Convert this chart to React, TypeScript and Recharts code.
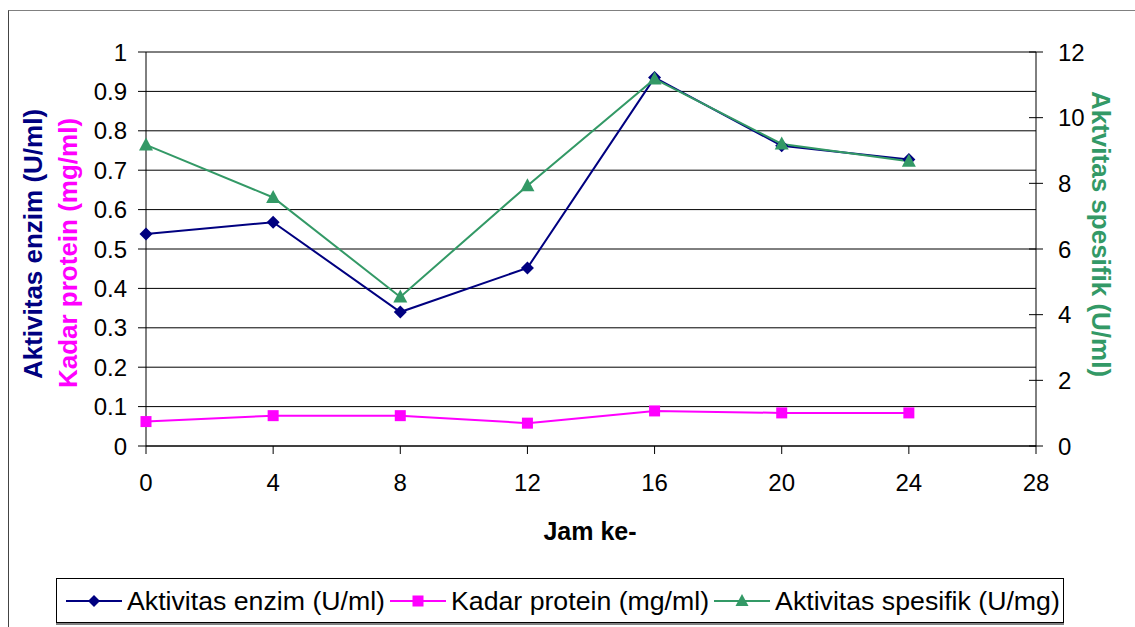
import React from "react";
import { LineChart, Line, XAxis, YAxis, CartesianGrid } from "recharts";

const hours = [0, 4, 8, 12, 16, 20, 24];
const aktivitasEnzim = [0.538, 0.568, 0.34, 0.452, 0.935, 0.762, 0.727];
const kadarProtein = [0.062, 0.077, 0.077, 0.058, 0.089, 0.084, 0.084];
const aktivitasSpesifik = [9.17, 7.57, 4.54, 7.93, 11.18, 9.2, 8.67];

const xTicks = [0, 4, 8, 12, 16, 20, 24, 28];
const leftTicks = [0, 0.1, 0.2, 0.3, 0.4, 0.5, 0.6, 0.7, 0.8, 0.9, 1];
const rightTicks = [0, 2, 4, 6, 8, 10, 12];

const seriesNames = [
  "Aktivitas enzim (U/ml)",
  "Kadar protein (mg/ml)",
  "Aktivitas spesifik (U/mg)",
];

const NAVY = "#000080";
const MAGENTA = "#FF00FF";
const GREEN = "#339966";
const FONT = "'Liberation Sans', Arial, sans-serif";

const data = hours.map((h, i) => ({
  jam: h,
  enzim: aktivitasEnzim[i],
  protein: kadarProtein[i],
  spesifik: aktivitasSpesifik[i],
}));

const Diamond = (props: any) => {
  const { cx, cy, fill, index } = props;
  if (cx == null || cy == null) return <g key={index} />;
  const r = 6.5;
  return (
    <path
      key={index}
      d={`M${cx},${cy - r} L${cx + r},${cy} L${cx},${cy + r} L${cx - r},${cy} Z`}
      fill={fill}
    />
  );
};

const Square = (props: any) => {
  const { cx, cy, fill, index } = props;
  if (cx == null || cy == null) return <g key={index} />;
  const r = 5.5;
  return <rect key={index} x={cx - r} y={cy - r} width={2 * r} height={2 * r} fill={fill} />;
};

const Triangle = (props: any) => {
  const { cx, cy, fill, index } = props;
  if (cx == null || cy == null) return <g key={index} />;
  return (
    <path
      key={index}
      d={`M${cx},${cy - 7.5} L${cx + 7},${cy + 5.5} L${cx - 7},${cy + 5.5} Z`}
      fill={fill}
    />
  );
};

const RightTick = (props: any) => {
  const { x, y, payload } = props;
  const axisX = x - 22;
  return (
    <g>
      <line x1={axisX - 7} x2={axisX + 7} y1={y} y2={y} stroke="#000" strokeWidth={1} />
      <text x={x} y={y} dy="0.36em" textAnchor="start" fontSize={24} fill="#000" fontFamily={FONT}>
        {payload.value}
      </text>
    </g>
  );
};

const LegendMarker = ({ color, kind }: { color: string; kind: string }) => (
  <svg width={56} height={20} style={{ display: "block" }}>
    <line x1={0} x2={56} y1={10} y2={10} stroke={color} strokeWidth={2} />
    {kind === "diamond" && <path d="M28,4 L34,10 L28,16 L22,10 Z" fill={color} />}
    {kind === "square" && <rect x={22.5} y={4.5} width={11} height={11} fill={color} />}
    {kind === "triangle" && <path d="M28,3 L34.5,15 L21.5,15 Z" fill={color} />}
  </svg>
);

export default function App() {
  const legendItems = [
    { name: seriesNames[0], color: NAVY, kind: "diamond" },
    { name: seriesNames[1], color: MAGENTA, kind: "square" },
    { name: seriesNames[2], color: GREEN, kind: "triangle" },
  ];
  return (
    <div
      style={{
        position: "absolute",
        left: 0,
        top: 0,
        width: 1135,
        height: 627,
        background: "#fff",
        fontFamily: FONT,
        overflow: "hidden",
      }}
    >
      <div
        style={{
          position: "absolute",
          left: 8,
          top: 10,
          width: 1140,
          height: 640,
          borderLeft: "1px solid #444",
          borderTop: "1px solid #808080",
        }}
      />
      <div style={{ position: "absolute", left: 0, top: 0 }}>
        <LineChart
          width={1135}
          height={627}
          data={data}
          margin={{ top: 52, right: 39, left: 86, bottom: 141 }}
        >
          <CartesianGrid
            yAxisId="left"
            vertical={false}
            horizontal={true}
            stroke="#000"
            strokeWidth={1}
          />
          <XAxis
            dataKey="jam"
            type="number"
            domain={[0, 28]}
            ticks={xTicks}
            interval={0}
            height={40}
            tickSize={8}
            tickMargin={20}
            axisLine={{ stroke: "#000" }}
            tickLine={{ stroke: "#000" }}
            tick={{ fontSize: 24, fill: "#000", fontFamily: FONT }}
          />
          <YAxis
            yAxisId="left"
            orientation="left"
            domain={[0, 1]}
            ticks={leftTicks}
            interval={0}
            width={60}
            tickSize={8}
            tickMargin={11}
            axisLine={{ stroke: "#000" }}
            tickLine={{ stroke: "#000" }}
            tick={{ fontSize: 24, fill: "#000", fontFamily: FONT }}
          />
          <YAxis
            yAxisId="right"
            orientation="right"
            domain={[0, 12]}
            ticks={rightTicks}
            interval={0}
            width={60}
            tickSize={7}
            tickMargin={15}
            axisLine={{ stroke: "#000" }}
            tickLine={false}
            tick={<RightTick />}
          />
          <Line
            yAxisId="left"
            dataKey="enzim"
            name={seriesNames[0]}
            stroke={NAVY}
            strokeWidth={2}
            fill={NAVY}
            dot={<Diamond />}
            activeDot={false}
            isAnimationActive={false}
          />
          <Line
            yAxisId="left"
            dataKey="protein"
            name={seriesNames[1]}
            stroke={MAGENTA}
            strokeWidth={2}
            fill={MAGENTA}
            dot={<Square />}
            activeDot={false}
            isAnimationActive={false}
          />
          <Line
            yAxisId="right"
            dataKey="spesifik"
            name={seriesNames[2]}
            stroke={GREEN}
            strokeWidth={2}
            fill={GREEN}
            dot={<Triangle />}
            activeDot={false}
            isAnimationActive={false}
          />
        </LineChart>
      </div>
      <svg
        width={1135}
        height={627}
        style={{ position: "absolute", left: 0, top: 0, pointerEvents: "none" }}
      >
        <text
          transform="translate(33,244) rotate(-90)"
          textAnchor="middle"
          dominantBaseline="central"
          fontSize={26}
          fontWeight="bold"
          fill={NAVY}
          fontFamily={FONT}
        >
          Aktivitas enzim (U/ml)
        </text>
        <text
          transform="translate(68,253) rotate(-90)"
          textAnchor="middle"
          dominantBaseline="central"
          fontSize={26}
          fontWeight="bold"
          fill={MAGENTA}
          fontFamily={FONT}
        >
          Kadar protein (mg/ml)
        </text>
        <text
          transform="translate(1101,234) rotate(90)"
          textAnchor="middle"
          dominantBaseline="central"
          fontSize={26}
          fontWeight="bold"
          fill={GREEN}
          fontFamily={FONT}
        >
          Aktvitas spesifik (U/ml)
        </text>
        <text
          x={590}
          y={531}
          textAnchor="middle"
          dominantBaseline="central"
          fontSize={25}
          fontWeight="bold"
          fill="#000"
          fontFamily={FONT}
        >
          Jam ke-
        </text>
      </svg>
      <div
        style={{
          position: "absolute",
          left: 56,
          top: 578,
          width: 1008,
          height: 45,
          border: "1px solid #000",
          boxShadow: "0 2px 0 #808080",
          background: "#fff",
          display: "flex",
          alignItems: "center",
          paddingLeft: 9,
          boxSizing: "border-box",
          whiteSpace: "nowrap",
        }}
      >
        {legendItems.map((it) => (
          <div key={it.name} style={{ display: "flex", alignItems: "center", marginRight: 5 }}>
            <LegendMarker color={it.color} kind={it.kind} />
            <span style={{ fontSize: 26.7, marginLeft: 5, color: "#000", lineHeight: "30px" }}>
              {it.name}
            </span>
          </div>
        ))}
      </div>
    </div>
  );
}
